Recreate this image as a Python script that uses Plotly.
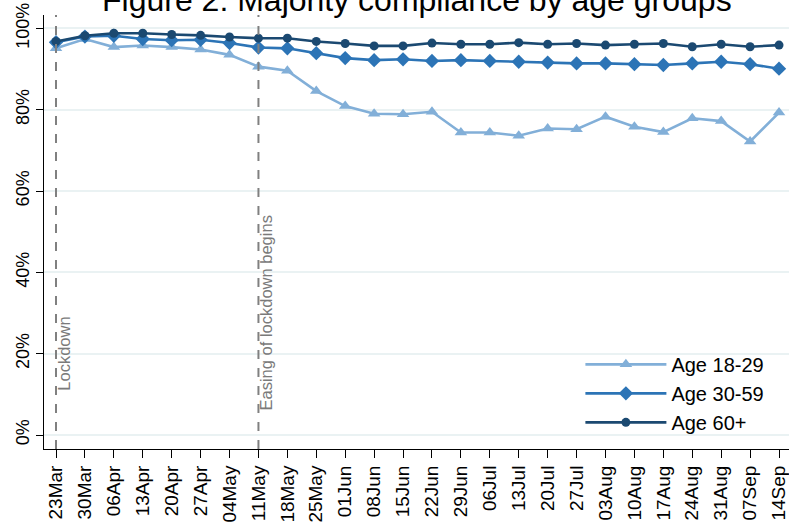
import plotly.graph_objects as go

dates = ["23Mar", "30Mar", "06Apr", "13Apr", "20Apr", "27Apr", "04May", "11May",
         "18May", "25May", "01Jun", "08Jun", "15Jun", "22Jun", "29Jun", "06Jul",
         "13Jul", "20Jul", "27Jul", "03Aug", "10Aug", "17Aug", "24Aug", "31Aug",
         "07Sep", "14Sep"]

age_18_29 = [95.1, 97.4, 95.4, 95.8, 95.4, 94.8, 93.5, 90.6, 89.6, 84.6, 80.9, 79.0,
             78.9, 79.5, 74.4, 74.4, 73.6, 75.4, 75.2, 78.3, 75.8, 74.5, 77.9, 77.2,
             72.2, 79.3]
age_30_59 = [96.6, 98.0, 98.2, 97.4, 97.1, 97.2, 96.4, 95.3, 95.1, 93.9, 92.7, 92.2,
             92.4, 92.0, 92.2, 92.0, 91.8, 91.6, 91.4, 91.4, 91.2, 91.0, 91.4, 91.8,
             91.2, 90.1]
age_60_plus = [96.8, 98.2, 98.8, 98.8, 98.5, 98.3, 97.9, 97.6, 97.6, 96.8, 96.3, 95.7,
               95.7, 96.4, 96.1, 96.1, 96.5, 96.1, 96.3, 95.9, 96.1, 96.3, 95.5, 96.1,
               95.5, 95.9]

series_names = ["Age 18-29", "Age 30-59", "Age 60+"]
y_ticks = [0, 20, 40, 60, 80, 100]
y_ticktext = [f"{v}%" for v in y_ticks]
events = [("23Mar", "Lockdown", 20), ("11May", "Easing of lockdown begins", 30)]
title_text = "Figure 2: Majority compliance by age groups"

colors = ["#82afd8", "#2c74b6", "#1b4971"]
symbols = ["triangle-up", "diamond", "circle"]
msizes = [11, 11, 9]

fig = go.Figure()
for name, vals, c, s, ms in zip(series_names, [age_18_29, age_30_59, age_60_plus],
                                colors, symbols, msizes):
    fig.add_trace(go.Scatter(
        x=dates, y=vals, name=name, mode="lines+markers",
        line=dict(color=c, width=2.6),
        marker=dict(symbol=s, size=ms, color=c),
    ))

for d, label, ypos in events:
    idx = dates.index(d)
    fig.add_shape(type="line", xref="x", yref="paper", x0=idx, x1=idx, y0=0, y1=1,
                  line=dict(color="#808080", width=2, dash="dash"), layer="above")
    fig.add_annotation(x=idx, y=ypos, xref="x", yref="y", text=label, textangle=-90,
                       showarrow=False, xshift=8,
                       font=dict(size=16.5, color="#7a7a7a"))

fig.add_annotation(x=0.5, y=1, xref="paper", yref="paper", text=title_text,
                   showarrow=False, yanchor="middle", yshift=15,
                   font=dict(size=32, color="black"))

fig.update_layout(
    width=789, height=529,
    margin=dict(l=44, r=0, t=15, b=80, autoexpand=False),
    plot_bgcolor="white", paper_bgcolor="white",
    font=dict(family="Liberation Sans, Arial, sans-serif", color="black"),
    showlegend=True,
    legend=dict(x=0.72, y=0.24, xanchor="left", yanchor="top",
                bgcolor="rgba(0,0,0,0)", font=dict(size=20), itemwidth=81,
                tracegroupgap=0),
    xaxis=dict(type="category", range=[-0.415, 25.345], showline=True,
               linecolor="black", linewidth=1, ticks="outside", ticklen=8,
               tickcolor="black", tickangle=-90, tickfont=dict(size=19),
               showgrid=False, zeroline=False, automargin=False),
    yaxis=dict(range=[-3.44, 103.3], tickvals=y_ticks, ticktext=y_ticktext,
               tickangle=-90, showgrid=True, gridcolor="#eaf2f3", gridwidth=1.5,
               ticks="outside", ticklen=7, tickcolor="black", showline=True,
               linecolor="black", linewidth=1, zeroline=False,
               tickfont=dict(size=18), automargin=False),
)

fig.write_html("out.html", config={"displayModeBar": False},
               post_script="document.body.style.margin='0';document.body.style.padding='0';")
